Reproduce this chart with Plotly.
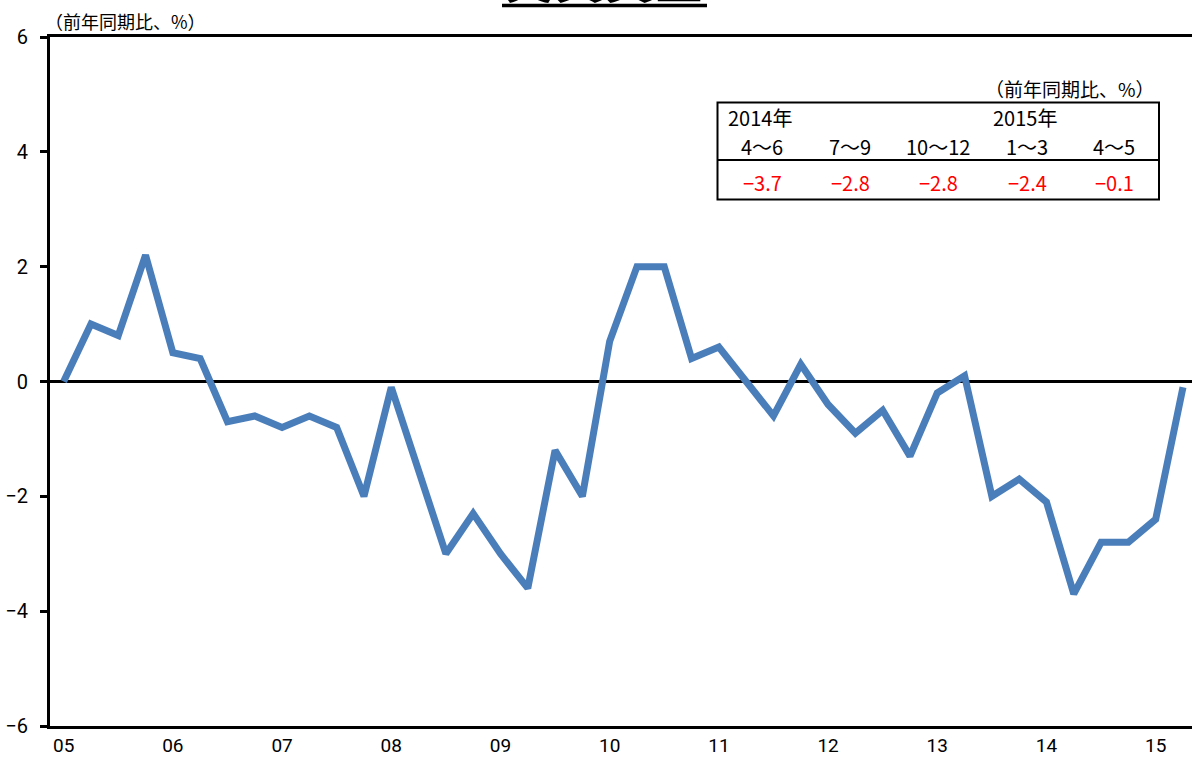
import plotly.graph_objects as go

# Quarterly real wage growth (y/y %), 2005Q1 .. 2015Q2 (Apr-May)
values = [0.0, 1.0, 0.8, 2.2,
          0.5, 0.4, -0.7, -0.6,
          -0.8, -0.6, -0.8, -2.0,
          -0.1, -1.6, -3.0, -2.3,
          -3.0, -3.6, -1.2, -2.0,
          0.7, 2.0, 2.0, 0.4,
          0.6, 0.0, -0.6, 0.3,
          -0.4, -0.9, -0.5, -1.3,
          -0.2, 0.1, -2.0, -1.7,
          -2.1, -3.7, -2.8, -2.8,
          -2.4, -0.1]
year_labels = ["05", "06", "07", "08", "09", "10", "11", "12", "13", "14", "15"]
y_ticks = [-6, -4, -2, 0, 2, 4, 6]

table_years = ["2014年", "2015年"]
table_periods = ["4〜6", "7〜9", "10〜12", "1〜3", "4〜5"]
table_values = ["−3.7", "−2.8", "−2.8", "−2.4", "−0.1"]

W, H = 1192, 758
ML, MR, MT, MB = 50, 0, 37, 32
PW, PH = W - ML - MR, H - MT - MB

def px(x):
    return (x - ML) / PW

def py(y):
    return (H - MB - y) / PH

idx = list(range(len(values)))
tickvals = [i * 4 for i in range(len(year_labels))]

fig = go.Figure()
fig.add_trace(go.Scatter(
    x=idx, y=values, mode="lines",
    line=dict(color="#4A7EBB", width=7),
    hoverinfo="skip", showlegend=False,
))

num_font = "Liberation Sans Narrow, Arial Narrow, Roboto, sans-serif"
jp_font = "Noto Sans CJK JP, sans-serif"

fig.update_layout(
    width=W, height=H,
    margin=dict(l=ML, r=MR, t=MT, b=MB, pad=0, autoexpand=False),
    paper_bgcolor="white", plot_bgcolor="white",
    showlegend=False,
    xaxis=dict(
        range=[-0.5, 41.33], automargin=False,
        tickmode="array", tickvals=tickvals, ticktext=year_labels,
        showgrid=False, zeroline=False,
        showline=True, linecolor="black", linewidth=3, mirror=True,
        ticks="", ticklabelstandoff=0,
        tickfont=dict(family=num_font, size=19, color="black"),
    ),
    yaxis=dict(
        range=[-6, 6], automargin=False,
        tickmode="array", tickvals=y_ticks,
        ticktext=[("−" + str(-v)) if v < 0 else str(v) for v in y_ticks],
        showgrid=False,
        zeroline=True, zerolinecolor="black", zerolinewidth=3,
        showline=True, linecolor="black", linewidth=3,
        ticks="outside", ticklen=7, tickwidth=2.5, tickcolor="black",
        ticklabelstandoff=8,
        tickfont=dict(family=num_font, size=20, color="black"),
    ),
)

annotations = []
shapes = []

# Cut-off title at the top with underline (as in the reference)
annotations.append(dict(
    text="<b>実質賃金</b>", xref="paper", yref="paper",
    x=px(604), y=py(14), xanchor="center", yanchor="bottom",
    showarrow=False, font=dict(family=jp_font, size=50, color="black"),
))
shapes.append(dict(type="line", xref="paper", yref="paper",
                   x0=px(502), x1=px(707), y0=py(5.5), y1=py(5.5),
                   line=dict(color="black", width=3.5)))

# y-axis unit label
annotations.append(dict(
    text="（前年同期比、%）", xref="paper", yref="paper",
    x=px(43), y=py(21), xanchor="left", yanchor="middle",
    showarrow=False, font=dict(family=jp_font, size=18, color="black"),
))

# Table box
shapes.append(dict(type="rect", xref="paper", yref="paper",
                   x0=px(717.5), x1=px(1159), y0=py(199.5), y1=py(102.5),
                   line=dict(color="black", width=2), fillcolor="white"))
shapes.append(dict(type="line", xref="paper", yref="paper",
                   x0=px(717.5), x1=px(1159), y0=py(160), y1=py(160),
                   line=dict(color="black", width=2)))

annotations.append(dict(
    text="（前年同期比、%）", xref="paper", yref="paper",
    x=px(1157), y=py(89), xanchor="right", yanchor="middle",
    showarrow=False, font=dict(family=jp_font, size=19, color="black"),
))
for t, xl in zip(table_years, [726, 991]):
    annotations.append(dict(
        text=t, xref="paper", yref="paper",
        x=px(xl), y=py(118), xanchor="left", yanchor="middle",
        showarrow=False, font=dict(family=jp_font, size=20, color="black"),
    ))
centers = [762, 850, 938, 1027, 1114]
for t, v, cx in zip(table_periods, table_values, centers):
    annotations.append(dict(
        text=t, xref="paper", yref="paper",
        x=px(cx), y=py(146), xanchor="center", yanchor="middle",
        showarrow=False, font=dict(family=jp_font, size=20, color="black"),
    ))
    annotations.append(dict(
        text=v, xref="paper", yref="paper",
        x=px(cx), y=py(182), xanchor="center", yanchor="middle",
        showarrow=False, font=dict(family=jp_font, size=20, color="#FF0000"),
    ))

fig.update_layout(annotations=annotations, shapes=shapes)
fig.write_html("out.html")
